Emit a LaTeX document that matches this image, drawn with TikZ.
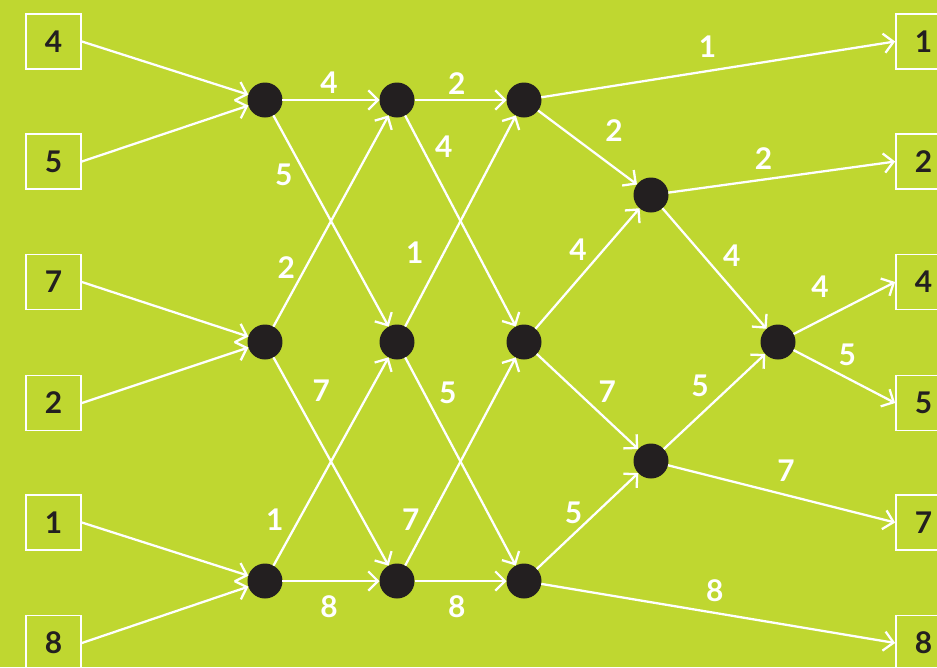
\documentclass[tikz,border=0pt]{standalone}
\usepackage{fontspec}
\setmainfont{Lato}
\usetikzlibrary{arrows.meta}
\definecolor{leaf}{HTML}{BFD730}
\definecolor{ink}{HTML}{231F20}

\begin{document}
\begin{tikzpicture}[x=0.02cm, y=-0.02cm,
	numbox/.style={
		draw=white,
		line width=1pt,
		rectangle,
		minimum size=1.1cm,
		inner sep=0pt,
		font=\fontsize{17}{20}\selectfont\bfseries,
		text=ink
	},
	hub/.style={circle, fill=ink, minimum size=0.7cm, inner sep=0pt, outer sep=0pt},
	flow/.style={-{Straight Barb[length=5.5pt,width=11pt]}, line width=1.3pt, draw=white},
	wlab/.style={font=\fontsize{17}{20}\selectfont\bfseries, text=white, inner sep=0pt}
	]

	\useasboundingbox (0,0) rectangle (937,667);
	\clip (0,0) rectangle (937,667);
	\fill[leaf] (0,0) rectangle (937,667);

	% Input boxes
	\node[numbox] (i4) at (53.5,41.5) {4};
	\node[numbox] (i5) at (53.5,161.5) {5};
	\node[numbox] (i7) at (53.5,282) {7};
	\node[numbox] (i2) at (53.5,403) {2};
	\node[numbox] (i1) at (53.5,522.5) {1};
	\node[numbox] (i8) at (53.5,643) {8};

	% Output boxes
	\node[numbox] (o1) at (923.5,41.5) {1};
	\node[numbox] (o2) at (923.5,161.5) {2};
	\node[numbox] (o4) at (923.5,282) {4};
	\node[numbox] (o5) at (923.5,403) {5};
	\node[numbox] (o7) at (923.5,522.5) {7};
	\node[numbox] (o8) at (923.5,643) {8};

	% Comparator hubs
	\node[hub] (a1) at (265,100) {};
	\node[hub] (a2) at (265,342) {};
	\node[hub] (a3) at (265,581) {};
	\node[hub] (b1) at (397,100) {};
	\node[hub] (b2) at (397,342) {};
	\node[hub] (b3) at (397,581) {};
	\node[hub] (c1) at (524,100) {};
	\node[hub] (c2) at (524,342) {};
	\node[hub] (c3) at (524,581) {};
	\node[hub] (d1) at (651,195) {};
	\node[hub] (d2) at (651,461) {};
	\node[hub] (e1) at (778,342) {};

	% Inputs
	\draw[flow] (i4.east) -- (a1);
	\draw[flow] (i5.east) -- (a1);
	\draw[flow] (i7.east) -- (a2);
	\draw[flow] (i2.east) -- (a2);
	\draw[flow] (i1.east) -- (a3);
	\draw[flow] (i8.east) -- (a3);

	% First stage
	\draw[flow] (a1) -- node[wlab, pos=0.48, yshift=9.6pt]{4} (b1);
	\draw[flow] (a1) -- node[wlab, pos=0.28, xshift=-12.4pt]{5} (b2);
	\draw[flow] (a2) -- node[wlab, pos=0.28, xshift=-11pt]{2} (b1);
	\draw[flow] (a2) -- node[wlab, pos=0.16, xshift=16.7pt]{7} (b3);
	\draw[flow] (a3) -- node[wlab, pos=0.22, xshift=-13.7pt]{1} (b2);
	\draw[flow] (a3) -- node[wlab, pos=0.48, yshift=-14.7pt]{8} (b3);

	% Second stage
	\draw[flow] (b1) -- node[wlab, pos=0.46, yshift=9.6pt]{2} (c1);
	\draw[flow] (b1) -- node[wlab, pos=0.15, xshift=12.6pt]{4} (c2);
	\draw[flow] (b2) -- node[wlab, pos=0.35, xshift=-16.6pt]{1} (c1);
	\draw[flow] (b2) -- node[wlab, pos=0.17, xshift=13.5pt]{5} (c3);
	\draw[flow] (b3) -- node[wlab, pos=0.22, xshift=-10.7pt]{7} (c2);
	\draw[flow] (b3) -- node[wlab, pos=0.46, yshift=-14.7pt]{8} (c3);

	% Third stage
	\draw[flow] (c1) -- node[wlab, pos=0.47, yshift=13.9pt]{1} (o1.west);
	\draw[flow] (c1) -- node[wlab, pos=0.59, xshift=10.1pt, yshift=13.6pt]{2} (d1);
	\draw[flow] (c2) -- node[wlab, pos=0.55, xshift=-8.3pt, yshift=7.1pt]{4} (d1);
	\draw[flow] (c2) -- node[wlab, pos=0.49, xshift=11.8pt, yshift=5.3pt]{7} (d2);
	\draw[flow] (c3) -- node[wlab, pos=0.47, xshift=-6.2pt, yshift=6.5pt]{5} (d2);
	\draw[flow] (c3) -- node[wlab, pos=0.49, yshift=12.4pt]{8} (o8.west);

	% Last stage
	\draw[flow] (d1) -- node[wlab, pos=0.42, yshift=12.2pt]{2} (o2.west);
	\draw[flow] (d1) -- node[wlab, pos=0.51, xshift=9.2pt, yshift=7.9pt]{4} (e1);
	\draw[flow] (d2) -- node[wlab, pos=0.5, xshift=-8.3pt, yshift=8.7pt]{5} (e1);
	\draw[flow] (d2) -- node[wlab, pos=0.52, yshift=13.7pt]{7} (o7.west);
	\draw[flow] (e1) -- node[wlab, pos=0.26, yshift=19.1pt]{4} (o4.west);
	\draw[flow] (e1) -- node[wlab, pos=0.53, yshift=13.2pt]{5} (o5.west);

\end{tikzpicture}
\end{document}
